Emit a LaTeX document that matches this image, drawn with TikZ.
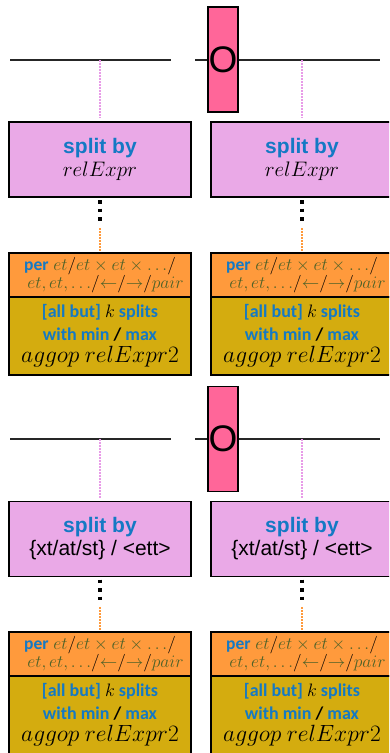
\RequirePackage{fix-cm}
\documentclass[tikz,border=0pt]{standalone}
\usepackage[no-math]{fontspec}
\setmainfont{Liberation Sans}
\newfontfamily\calibri{Carlito}
\usetikzlibrary{positioning}

\definecolor{splitfill}{HTML}{EAA9E7}
\definecolor{perfill}{HTML}{FF9A3C}
\definecolor{aggfill}{HTML}{D4AC0F}
\definecolor{opfill}{HTML}{FF6699}
\definecolor{reldot}{HTML}{E89BE8}
\definecolor{bluetxt}{HTML}{1479C4}
\definecolor{greentxt}{HTML}{4F6228}

\begin{document}
\begin{tikzpicture}[x=1pt,y=-1pt,
      splitbox/.style={
        rectangle,
        draw=black, line width=1.4pt,
        fill=splitfill,
        minimum width=182pt,
        minimum height=75pt,
        inner sep=0pt, outer sep=0pt,
        align=center,
        font=\fontsize{21}{23}\selectfont
      },
      perbox/.style={
        rectangle,
        draw=black, line width=1.4pt,
        fill=perfill,
        minimum width=182pt,
        minimum height=44pt,
        inner sep=0pt, outer sep=0pt,
        align=center,
        font=\fontsize{17.5}{18.5}\selectfont
      },
      aggbox/.style={
        rectangle,
        draw=black, line width=1.4pt,
        fill=aggfill,
        minimum width=182pt,
        minimum height=78pt,
        inner sep=0pt, outer sep=0pt,
        align=center,
        font=\calibri\bfseries\fontsize{18}{22.5}\selectfont
      },
      opbox/.style={
        rectangle,
        draw=black, line width=1.4pt,
        fill=opfill,
        minimum width=30pt,
        minimum height=105pt,
        inner sep=0pt,
        font=\fontsize{37}{37}\selectfont
      },
      axis/.style={line width=1.5pt, black!85},
      reldots/.style={draw=reldot, line width=1.5pt, dash pattern=on 1.5pt off 1.5pt},
      sepdots/.style={line width=3.5pt, dash pattern=on 3.5pt off 5pt},
      perdots/.style={draw=perfill, line width=1.5pt, dash pattern=on 1.5pt off 1.5pt}
    ]
      \useasboundingbox (0,0) rectangle (389,753);
      \clip (0,0) rectangle (389,753);

      % upper half
      \coordinate (axisTLa) at (10,60);
      \coordinate (axisTLb) at (171,60);
      \coordinate (axisTRa) at (195,60);
      \coordinate (axisTRb) at (380,60);
      \draw[axis] (axisTLa) -- (axisTLb);
      \draw[axis] (axisTRa) -- (axisTRb);
      \node[opbox] (opT) at (223,59.5) {O};

      \node[splitbox] (splitTL) at (100,159.5) {{\bfseries\color{bluetxt}split by}\\$relExpr$};
      \node[splitbox] (splitTR) at (302,159.5) {{\bfseries\color{bluetxt}split by}\\$relExpr$};
      \node[perbox] (perTL) at (100,275) {{\calibri\bfseries\color{bluetxt}per} \color{greentxt}$et\textcolor{black}{/}et\times et\times {\ldots}\textcolor{black}{/}$\\
        \hspace*{11pt}\color{greentxt}$et,et,{\ldots}\textcolor{black}{/}{\leftarrow}\textcolor{black}{/}{\rightarrow}\textcolor{black}{/}pair$};
      \node[perbox] (perTR) at (302,275) {{\calibri\bfseries\color{bluetxt}per} \color{greentxt}$et\textcolor{black}{/}et\times et\times {\ldots}\textcolor{black}{/}$\\
        \hspace*{11pt}\color{greentxt}$et,et,{\ldots}\textcolor{black}{/}{\leftarrow}\textcolor{black}{/}{\rightarrow}\textcolor{black}{/}pair$};
      \node[aggbox, below=0pt of perTL] (aggTL) {{\color{bluetxt}[all but]} $k$ {\color{bluetxt}splits}\\
        {\color{bluetxt}with min} / {\color{bluetxt}max}\\
        {\fontsize{23.5}{22}\selectfont$aggop\ relExpr2$}};
      \node[aggbox, below=0pt of perTR] (aggTR) {{\color{bluetxt}[all but]} $k$ {\color{bluetxt}splits}\\
        {\color{bluetxt}with min} / {\color{bluetxt}max}\\
        {\fontsize{23.5}{22}\selectfont$aggop\ relExpr2$}};

      \coordinate (gapTL) at (100,221);
      \coordinate (gapTR) at (302,221);
      \draw[reldots, shorten >=4pt] (splitTL.north |- axisTLa) -- (splitTL.north);
      \draw[reldots, shorten >=4pt] (splitTR.north |- axisTRa) -- (splitTR.north);
      \draw[sepdots, shorten <=3pt] (splitTL.south) -- (gapTL);
      \draw[sepdots, shorten <=3pt] (splitTR.south) -- (gapTR);
      \draw[perdots, shorten <=7pt, shorten >=1pt] (gapTL) -- (perTL.north);
      \draw[perdots, shorten <=7pt, shorten >=1pt] (gapTR) -- (perTR.north);

      % lower half
      \coordinate (axisBLa) at (10,439);
      \coordinate (axisBLb) at (171,439);
      \coordinate (axisBRa) at (195,439);
      \coordinate (axisBRb) at (380,439);
      \draw[axis] (axisBLa) -- (axisBLb);
      \draw[axis] (axisBRa) -- (axisBRb);
      \node[opbox] (opB) at (223,438.7) {O};

      \node[splitbox] (splitBL) at (100,539) {{\bfseries\color{bluetxt}split by}\\\{xt/at/st\} / <ett>};
      \node[splitbox] (splitBR) at (302,539) {{\bfseries\color{bluetxt}split by}\\\{xt/at/st\} / <ett>};
      \node[perbox] (perBL) at (100,654) {{\calibri\bfseries\color{bluetxt}per} \color{greentxt}$et\textcolor{black}{/}et\times et\times {\ldots}\textcolor{black}{/}$\\
        \hspace*{11pt}\color{greentxt}$et,et,{\ldots}\textcolor{black}{/}{\leftarrow}\textcolor{black}{/}{\rightarrow}\textcolor{black}{/}pair$};
      \node[perbox] (perBR) at (302,654) {{\calibri\bfseries\color{bluetxt}per} \color{greentxt}$et\textcolor{black}{/}et\times et\times {\ldots}\textcolor{black}{/}$\\
        \hspace*{11pt}\color{greentxt}$et,et,{\ldots}\textcolor{black}{/}{\leftarrow}\textcolor{black}{/}{\rightarrow}\textcolor{black}{/}pair$};
      \node[aggbox, below=0pt of perBL] (aggBL) {{\color{bluetxt}[all but]} $k$ {\color{bluetxt}splits}\\
        {\color{bluetxt}with min} / {\color{bluetxt}max}\\
        {\fontsize{23.5}{22}\selectfont$aggop\ relExpr2$}};
      \node[aggbox, below=0pt of perBR] (aggBR) {{\color{bluetxt}[all but]} $k$ {\color{bluetxt}splits}\\
        {\color{bluetxt}with min} / {\color{bluetxt}max}\\
        {\fontsize{23.5}{22}\selectfont$aggop\ relExpr2$}};

      \coordinate (gapBL) at (100,600);
      \coordinate (gapBR) at (302,600);
      \draw[reldots, shorten >=4pt] (splitBL.north |- axisBLa) -- (splitBL.north);
      \draw[reldots, shorten >=4pt] (splitBR.north |- axisBRa) -- (splitBR.north);
      \draw[sepdots, shorten <=3pt] (splitBL.south) -- (gapBL);
      \draw[sepdots, shorten <=3pt] (splitBR.south) -- (gapBR);
      \draw[perdots, shorten <=7pt, shorten >=1pt] (gapBL) -- (perBL.north);
      \draw[perdots, shorten <=7pt, shorten >=1pt] (gapBR) -- (perBR.north);
    \end{tikzpicture}
\end{document}
